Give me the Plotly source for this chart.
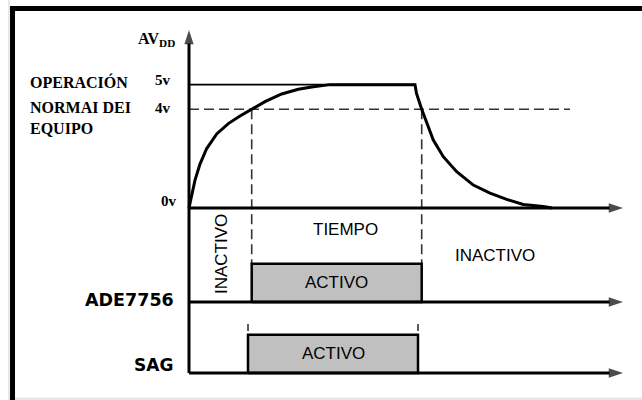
import plotly.graph_objects as go

# ---------------- data ----------------
# supply voltage AV_DD (V) against time (arbitrary units)
t_rise = [0.0, 0.27, 0.6, 1.1, 1.77, 2.77, 3.93, 5.1, 6.27, 7.6, 9.27, 10.93, 12.27, 14.1]
v_rise = [0.0, 0.53, 1.13, 1.78, 2.41, 3.00, 3.42, 3.73, 4.0, 4.31, 4.62, 4.81, 4.90, 5.0]
t_fall = [22.6, 22.75, 23.27, 23.77, 24.43, 25.43, 26.77, 28.43, 30.1, 31.77, 33.43, 35.43, 36.3]
v_fall = [5.0, 4.64, 4.0, 3.43, 2.75, 2.08, 1.47, 0.93, 0.60, 0.35, 0.14, 0.06, 0.0]

v_levels = [0, 4, 5]
v_labels = ["0v", "4v", "5v"]
v_normal = 4          # operating threshold
v_max = 5
v_axis_top = 7.214    # top of the voltage axis
t_normal_end = 38.1   # extent of the 4v guide
t_end = 43.4          # end of the time axes

# digital signals (0 = inactive, 1 = active)
ade_on, ade_off = 6.27, 23.27
sag_on, sag_off = 5.9, 22.9
signal_names = ["ADE7756", "SAG"]

# ---------------- layout constants ----------------
ADE_BASE, SAG_BASE, LANE_H = -3.81, -6.687, 1.55
X_RANGE = [-18.9, 45.3]
Y_RANGE = [-7.7812, 8.4296]
SERIF = "Liberation Serif"
SANS = "Liberation Sans"
DASH = "10px,5px"
GUIDE = "#333333"

fig = go.Figure()

# 5v reference line (thin)
fig.add_trace(go.Scatter(x=[0, t_fall[0]], y=[v_max, v_max], mode="lines",
                         line=dict(color="black", width=1.8), hoverinfo="skip"))
# 4v dashed guide
fig.add_trace(go.Scatter(x=[0, t_normal_end], y=[v_normal, v_normal], mode="lines",
                         line=dict(color=GUIDE, width=1.6, dash=DASH), hoverinfo="skip"))
# vertical dashed guides from 4v crossing down to the ADE lane
for tx in (ade_on, ade_off):
    fig.add_trace(go.Scatter(x=[tx, tx], y=[v_normal, ADE_BASE + LANE_H], mode="lines",
                             line=dict(color=GUIDE, width=1.6, dash=DASH), hoverinfo="skip"))
# short guide ticks above the SAG pulse
for tx in (sag_on, sag_off):
    fig.add_trace(go.Scatter(x=[tx, tx], y=[SAG_BASE + LANE_H + 0.154, SAG_BASE + LANE_H + 0.438],
                             mode="lines", line=dict(color=GUIDE, width=1.6), hoverinfo="skip"))

# active pulses
for base, on, off in ((ADE_BASE, ade_on, ade_off), (SAG_BASE, sag_on, sag_off)):
    fig.add_trace(go.Scatter(x=[on, on, off, off, on],
                             y=[base, base + LANE_H, base + LANE_H, base, base],
                             mode="lines", fill="toself", fillcolor="#c0c0c0",
                             line=dict(color="black", width=2.5), hoverinfo="skip"))

# axes with arrowheads (arrow marker at the end point)
def axis_arrow(xs, ys):
    fig.add_trace(go.Scatter(
        x=xs, y=ys, mode="lines+markers",
        line=dict(color="black", width=3),
        marker=dict(symbol="arrow", size=[0, 15], color="black", angleref="previous",
                    line=dict(width=0)),
        hoverinfo="skip"))

axis_arrow([0, 0], [SAG_BASE, v_axis_top])
axis_arrow([0, t_end], [0, 0])
axis_arrow([0, t_end], [ADE_BASE, ADE_BASE])
axis_arrow([0, t_end], [SAG_BASE, SAG_BASE])

# AV_DD curve
t_curve = t_rise + t_fall
v_curve = v_rise + v_fall
fig.add_trace(go.Scatter(x=t_curve, y=v_curve, mode="lines",
                         line=dict(color="black", width=3), hoverinfo="skip"))

ann = []

def label(text, x, y, font, size, xanchor="center", bold=False, angle=0, yshift=0):
    return dict(x=x, y=y, xref="x", yref="y", text=text, showarrow=False,
                xanchor=xanchor, yanchor="middle", textangle=angle, yshift=yshift,
                font=dict(family=font, size=size, color="black",
                          weight="bold" if bold else "normal"))

# voltage labels
ann.append(label("AV<sub>DD</sub>", -1.2, 6.81, SERIF, 16, "right", True))
label_x = {"0v": -1.0, "4v": -1.6, "5v": -1.6}
label_shift = {"0v": 7, "4v": 1, "5v": 5}
for lv, lt in zip(v_levels, v_labels):
    ann.append(label(lt, label_x[lt], lv, SERIF, 15, "right", True, yshift=label_shift[lt]))

# left description
for txt, yy in (("OPERACIÓN", 5.106), ("NORMAI DEI", 4.073), ("EQUIPO", 3.202)):
    ann.append(label(txt, -16.1, yy, SERIF, 16, "left", True))

# signal names
ann.append(label(signal_names[0], -1.3, -3.728, "DejaVu Sans", 17.5, "right", True))
ann.append(label(signal_names[1], -1.4, -6.363, "DejaVu Sans", 17, "right", True))

# state labels
ann.append(label("INACTIVO", 3.3, -1.864, SANS, 17, angle=-90))
ann.append(label("TIEMPO", 15.6, -0.871, SANS, 17))
ann.append(label("INACTIVO", 30.55, -1.945, SANS, 17))
ann.append(label("ACTIVO", (ade_on + ade_off) / 2, ADE_BASE + LANE_H / 2, SANS, 17))
ann.append(label("ACTIVO", (sag_on + sag_off) / 2, SAG_BASE + LANE_H / 2, SANS, 17))

# frame (decoration)
shapes = [
    dict(type="line", xref="paper", yref="paper", x0=0.0140, x1=0.0140, y0=0, y1=1,
         line=dict(color="#d0d0d0", width=1)),
    dict(type="line", xref="paper", yref="paper", x0=0.0156, x1=1, y0=0.003, y1=0.003,
         line=dict(color="#e2e2e2", width=2)),
    dict(type="line", xref="paper", yref="paper", x0=0.0195, x1=0.0195, y0=0, y1=0.985,
         line=dict(color="black", width=5)),
    dict(type="line", xref="paper", yref="paper", x0=0.0156, x1=1, y0=0.97875, y1=0.97875,
         line=dict(color="black", width=5)),
]

fig.update_layout(
    width=642, height=400, autosize=False,
    margin=dict(l=0, r=0, t=0, b=0, pad=0),
    paper_bgcolor="white", plot_bgcolor="white",
    showlegend=False,
    xaxis=dict(range=X_RANGE, visible=False, fixedrange=True),
    yaxis=dict(range=Y_RANGE, visible=False, fixedrange=True),
    annotations=ann, shapes=shapes,
)

fig.write_html("out.html", config={"displayModeBar": False, "staticPlot": True},
               post_script="document.body.style.margin='0';document.body.style.overflow='hidden';")
